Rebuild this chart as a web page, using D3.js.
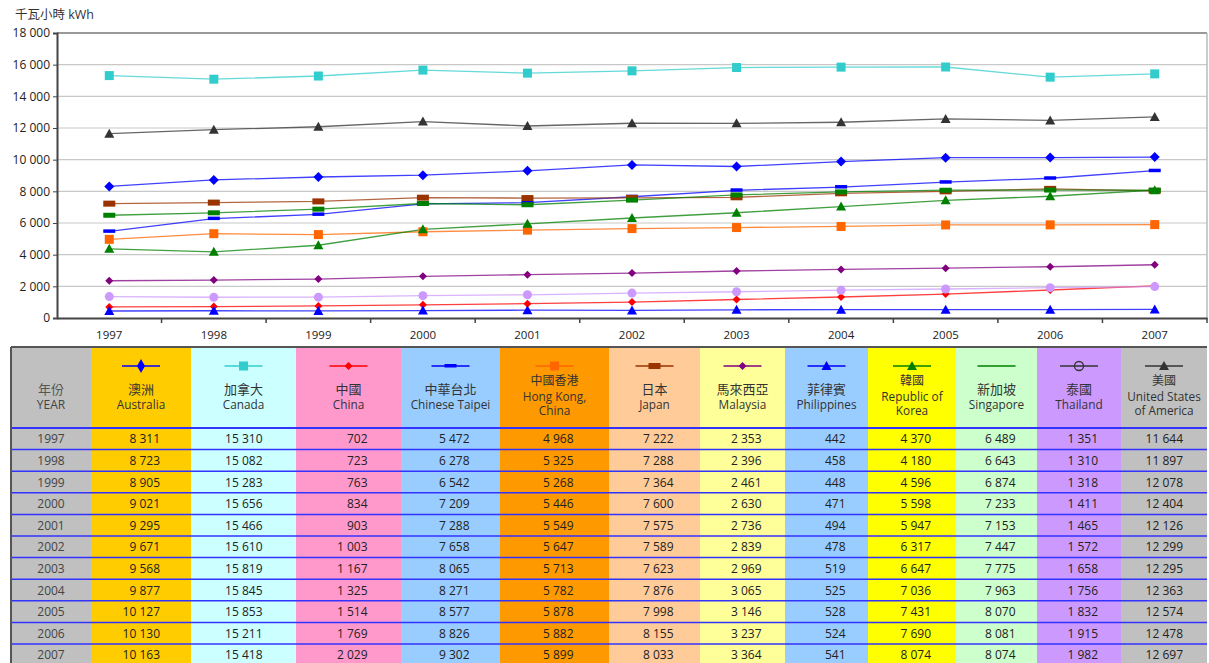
<!DOCTYPE html>
<html>
<head>
<meta charset="utf-8">
<script src="https://cdn.jsdelivr.net/npm/d3@7"></script>
<style>
  body { margin: 0; background: #fff; }
  svg text { font-family: "Open Sans", "Noto Sans CJK TC", sans-serif; }
</style>
</head>
<body>
<svg id="chart" width="1209" height="663"></svg>
<script>
const years = [1997, 1998, 1999, 2000, 2001, 2002, 2003, 2004, 2005, 2006, 2007];
const yTicks = [0, 2000, 4000, 6000, 8000, 10000, 12000, 14000, 16000, 18000];

const australia   = [8311, 8723, 8905, 9021, 9295, 9671, 9568, 9877, 10127, 10130, 10163];
const canada      = [15310, 15082, 15283, 15656, 15466, 15610, 15819, 15845, 15853, 15211, 15418];
const china       = [702, 723, 763, 834, 903, 1003, 1167, 1325, 1514, 1769, 2029];
const taipei      = [5472, 6278, 6542, 7209, 7288, 7658, 8065, 8271, 8577, 8826, 9302];
const hongKong    = [4968, 5325, 5268, 5446, 5549, 5647, 5713, 5782, 5878, 5882, 5899];
const japan       = [7222, 7288, 7364, 7600, 7575, 7589, 7623, 7876, 7998, 8155, 8033];
const malaysia    = [2353, 2396, 2461, 2630, 2736, 2839, 2969, 3065, 3146, 3237, 3364];
const philippines = [442, 458, 448, 471, 494, 478, 519, 525, 528, 524, 541];
const korea       = [4370, 4180, 4596, 5598, 5947, 6317, 6647, 7036, 7431, 7690, 8074];
const singapore   = [6489, 6643, 6874, 7233, 7153, 7447, 7775, 7963, 8070, 8081, 8074];
const thailand    = [1351, 1310, 1318, 1411, 1465, 1572, 1658, 1756, 1832, 1915, 1982];
const usa         = [11644, 11897, 12078, 12404, 12126, 12299, 12295, 12363, 12574, 12478, 12697];

// series: labels + styling
const series = [
  {zh: '澳洲', en: ['Australia'], values: australia, color: '#0000ff', mark: 'diamond', bg: '#ffcc00', w: 100},
  {zh: '加拿大', en: ['Canada'], values: canada, color: '#33cccc', mark: 'square', bg: '#ccffff', w: 105},
  {zh: '中國', en: ['China'], values: china, color: '#ff0000', mark: 'smalldiamond', bg: '#ff99cc', w: 105},
  {zh: '中華台北', en: ['Chinese Taipei'], values: taipei, color: '#0000ff', mark: 'dash', bg: '#99ccff', w: 99},
  {zh: '中國香港', en: ['Hong Kong,', 'China'], values: hongKong, color: '#ff6600', mark: 'square', bg: '#ff9900', w: 109},
  {zh: '日本', en: ['Japan'], values: japan, color: '#993300', mark: 'bar', bg: '#ffcc99', w: 91},
  {zh: '馬來西亞', en: ['Malaysia'], values: malaysia, color: '#800080', mark: 'smalldiamond', bg: '#ffff99', w: 85},
  {zh: '菲律賓', en: ['Philippines'], values: philippines, color: '#0000ff', mark: 'triangle', bg: '#99ccff', w: 83},
  {zh: '韓國', en: ['Republic of', 'Korea'], values: korea, color: '#008000', mark: 'triangle', bg: '#ffff00', w: 88},
  {zh: '新加坡', en: ['Singapore'], values: singapore, color: '#008000', mark: 'greenbar', bg: '#ccffcc', w: 81},
  {zh: '泰國', en: ['Thailand'], values: thailand, color: '#cc99ff', mark: 'circle', bg: '#cc99ff', w: 84},
  {zh: '美國', en: ['United States', 'of America'], values: usa, color: '#333333', mark: 'triangle', bg: '#c0c0c0', w: 86}
];

const loc = d3.formatLocale({decimal: '.', thousands: '\u2009', grouping: [3], currency: ['', '']});
const fmt = v => loc.format(',d')(v).replace(/\u2009/g, ' ');

const svg = d3.select('#chart');
const plot = {left: 57, right: 1207, top: 33, bottom: 318};

const x = d3.scaleBand().domain(years).range([plot.left, plot.right]);
const y = d3.scaleLinear().domain([0, 18000]).range([plot.bottom, plot.top]);

// unit label
svg.append('text').attr('x', 15).attr('y', 19)
  .attr('font-size', 12.5).attr('fill', '#333')
  .text('千瓦小時 kWh');

// gridlines
svg.append('g').selectAll('line')
  .data(yTicks.filter(t => t > 0))
  .join('line')
    .attr('x1', plot.left).attr('x2', plot.right)
    .attr('y1', d => y(d)).attr('y2', d => y(d))
    .attr('stroke', d => d === 18000 ? '#999' : '#c8c8c8')
    .attr('stroke-width', d => d === 18000 ? 2 : 1.2);

svg.append('line')
  .attr('x1', plot.right).attr('x2', plot.right)
  .attr('y1', plot.top).attr('y2', plot.bottom)
  .attr('stroke', '#bbb').attr('stroke-width', 1.5);

// y axis
const yAxis = svg.append('g')
  .attr('transform', `translate(${plot.left},0)`)
  .call(d3.axisLeft(y).tickValues(yTicks).tickSize(4).tickPadding(3).tickFormat(fmt));
yAxis.select('.domain').attr('stroke', '#444').attr('stroke-width', 2);
yAxis.selectAll('.tick line').attr('stroke', '#444');
yAxis.selectAll('text').attr('font-size', 12).attr('fill', '#222')
  .style('font-family', '"Open Sans", sans-serif');

// x axis: labels in the middle of bands, ticks at band edges
const xAxis = svg.append('g')
  .attr('transform', `translate(0,${plot.bottom})`)
  .call(d3.axisBottom(x).tickSize(0).tickPadding(13));
xAxis.select('.domain').attr('stroke', '#444').attr('stroke-width', 2);
xAxis.selectAll('text').attr('font-size', 11.5).attr('fill', '#222')
  .style('font-family', '"Open Sans", sans-serif');
xAxis.selectAll('.edge')
  .data(years.slice(1).concat(['end']))
  .join('line')
    .attr('class', 'edge')
    .attr('x1', d => d === 'end' ? plot.right : x(d))
    .attr('x2', d => d === 'end' ? plot.right : x(d))
    .attr('y1', 0).attr('y2', 5)
    .attr('stroke', '#444').attr('stroke-width', 1.5);

// marker drawing
function drawMark(g, s, cx, cy, legend) {
  const c = s.color;
  switch (s.mark) {
    case 'diamond':
      g.append('path')
        .attr('d', legend
          ? `M${cx},${cy-7}L${cx+4},${cy}L${cx},${cy+7}L${cx-4},${cy}Z`
          : `M${cx},${cy-5}L${cx+5},${cy}L${cx},${cy+5}L${cx-5},${cy}Z`)
        .attr('fill', c);
      break;
    case 'smalldiamond':
      g.append('path').attr('d', `M${cx},${cy-4}L${cx+4},${cy}L${cx},${cy+4}L${cx-4},${cy}Z`).attr('fill', c);
      break;
    case 'square':
      g.append('rect').attr('x', cx-4.5).attr('y', cy-4.5).attr('width', 9).attr('height', 9).attr('fill', c);
      break;
    case 'dash':
      g.append('rect').attr('x', cx-6).attr('y', cy-2).attr('width', 12).attr('height', 3.5).attr('fill', c);
      break;
    case 'bar':
      g.append('rect').attr('x', cx-6).attr('y', cy-3).attr('width', 12).attr('height', 6).attr('fill', c);
      break;
    case 'greenbar':
      if (!legend) g.append('rect').attr('x', cx-6).attr('y', cy-2.5).attr('width', 12).attr('height', 5).attr('fill', c);
      break;
    case 'triangle':
      g.append('path').attr('d', `M${cx},${cy-5}L${cx+5},${cy+4}L${cx-5},${cy+4}Z`).attr('fill', c);
      break;
    case 'circle':
      if (legend) g.append('circle').attr('cx', cx).attr('cy', cy).attr('r', 4.5).attr('fill', 'none').attr('stroke', '#333').attr('stroke-width', 1.3);
      else g.append('circle').attr('cx', cx).attr('cy', cy).attr('r', 4.5).attr('fill', c);
      break;
  }
}

// lines + markers
const line = d3.line()
  .x((d, i) => x(years[i]) + x.bandwidth() / 2)
  .y(d => y(d));

const lines = svg.append('g');
series.forEach(s => {
  lines.append('path')
    .datum(s.values)
    .attr('fill', 'none')
    .attr('stroke', s.color)
    .attr('stroke-opacity', 0.75)
    .attr('stroke-width', 1.3)
    .attr('d', line);
});
series.forEach(s => {
  const g = lines.append('g');
  s.values.forEach((v, i) => drawMark(g, s, x(years[i]) + x.bandwidth() / 2, y(v), false));
});

// ---- table ----
const tbl = {left: 11, top: 347, headBottom: 428, rowH: 21.6, yearW: 80};
const cols = [{w: tbl.yearW, bg: '#c0c0c0'}].concat(series);
let cx = tbl.left;
cols.forEach(c => { c.x0 = cx; cx += c.w; c.x1 = cx; c.mid = (c.x0 + c.x1) / 2; });
const tableRight = cx;
const tableBottom = tbl.headBottom + tbl.rowH * years.length;

const tg = svg.append('g');
tg.selectAll('rect.col')
  .data(cols)
  .join('rect')
    .attr('class', 'col')
    .attr('x', d => d.x0).attr('y', tbl.top)
    .attr('width', d => d.w).attr('height', tableBottom - tbl.top)
    .attr('fill', d => d.bg);

// header text
const yearCol = cols[0];
tg.append('text').attr('x', yearCol.mid).attr('y', 394).attr('text-anchor', 'middle')
  .attr('font-size', 13).attr('fill', '#555').style('font-family', '"Noto Sans CJK TC", sans-serif').text('年份');
tg.append('text').attr('x', yearCol.mid).attr('y', 409).attr('text-anchor', 'middle')
  .attr('font-size', 12).attr('fill', '#444').text('YEAR');

series.forEach(s => {
  const lines = [s.zh].concat(s.en);
  const three = lines.length === 3;
  const ys = three ? [385, 401, 415] : [394, 409];
  lines.forEach((t, i) => {
    tg.append('text')
      .attr('x', s.mid).attr('y', ys[i]).attr('text-anchor', 'middle')
      .attr('font-size', i === 0 ? (three ? 12 : 13) : 11.8)
      .attr('fill', '#333')
      .style('font-family', i === 0 ? '"Noto Sans CJK TC", sans-serif' : '"Open Sans", sans-serif')
      .text(t);
  });
  // legend key
  const ly = 366;
  tg.append('line')
    .attr('x1', s.mid - 19).attr('x2', s.mid + 19)
    .attr('y1', ly).attr('y2', ly)
    .attr('stroke', s.mark === 'circle' ? '#333' : s.color)
    .attr('stroke-width', 1.5);
  drawMark(tg, s, s.mid, ly, true);
});

// body cells
years.forEach((yr, r) => {
  const cy = tbl.headBottom + tbl.rowH * r + tbl.rowH / 2 + 4.5;
  tg.append('text').attr('x', yearCol.mid).attr('y', cy).attr('text-anchor', 'middle')
    .attr('font-size', 12).attr('fill', '#444').text(yr);
  series.forEach(s => {
    tg.append('text').attr('x', s.mid + 19).attr('y', cy).attr('text-anchor', 'end')
      .attr('font-size', 12).attr('fill', '#222').text(fmt(s.values[r]));
  });
});

// row separators
tg.selectAll('line.row')
  .data(d3.range(years.length))
  .join('line')
    .attr('class', 'row')
    .attr('x1', tbl.left).attr('x2', tableRight)
    .attr('y1', d => tbl.headBottom + tbl.rowH * d)
    .attr('y2', d => tbl.headBottom + tbl.rowH * d)
    .attr('stroke', '#3333ff').attr('stroke-width', d => d === 0 ? 2 : 1.5);

// outer border top + left
tg.append('line').attr('x1', tbl.left).attr('x2', tableRight).attr('y1', tbl.top).attr('y2', tbl.top)
  .attr('stroke', '#555').attr('stroke-width', 2);
tg.append('line').attr('x1', tbl.left).attr('x2', tbl.left).attr('y1', tbl.top).attr('y2', tableBottom)
  .attr('stroke', '#555').attr('stroke-width', 2);
</script>
</body>
</html>
